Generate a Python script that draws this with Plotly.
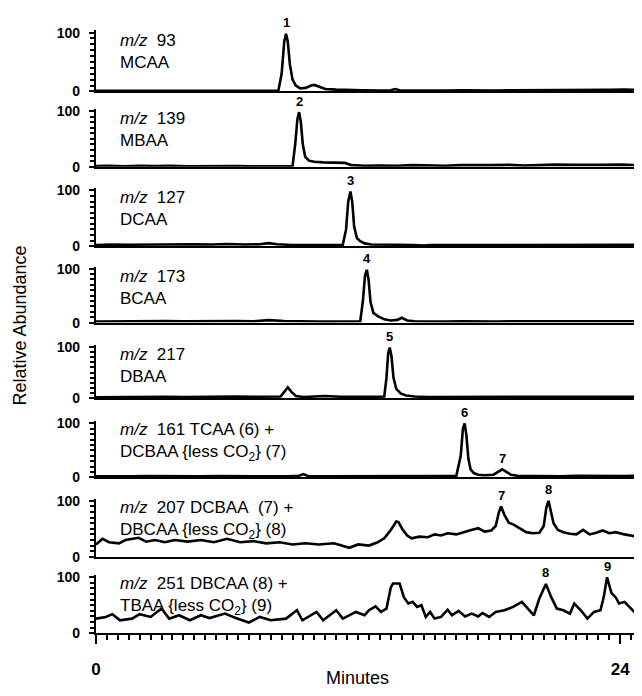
import plotly.graph_objects as go

# ---------------- data ----------------
panel_line1 = ["<i>m/z</i>\u00a0\u00a093", "<i>m/z</i>\u00a0\u00a0139", "<i>m/z</i>\u00a0\u00a0127",
               "<i>m/z</i>\u00a0\u00a0173", "<i>m/z</i>\u00a0\u00a0217",
               "<i>m/z</i>\u00a0\u00a0161 TCAA (6) +", "<i>m/z</i>\u00a0\u00a0207 DCBAA\u00a0\u00a0(7) +",
               "<i>m/z</i>\u00a0\u00a0251 DBCAA (8) +"]
panel_line2 = ["MCAA", "MBAA", "DCAA", "BCAA", "DBAA",
               "DCBAA {less CO<sub>2</sub>} (7)", "DBCAA {less CO<sub>2</sub>} (8)",
               "TBAA {less CO<sub>2</sub>} (9)"]

t1 = [0, 0.5, 1.2, 2.0, 2.8, 3.5, 4.3, 5.0, 5.8, 6.5, 7.2, 7.9, 8.35, 8.5, 8.62, 8.7, 8.78, 8.88, 9.0, 9.15,
      9.35, 9.6, 9.85, 10.0, 10.2, 10.5, 11.0, 11.6, 12.2, 13.0, 13.5, 13.7, 13.9, 14.5, 15.2, 16.0, 16.8,
      17.5, 18.3, 19.0, 19.8, 20.5, 21.3, 22.0, 22.8, 23.5, 24.2, 25.0]
v1 = [1, 1, 1.5, 1, 1, 1.5, 1, 1, 1, 1.5, 1, 1, 1, 30, 85, 98, 85, 45, 20, 10,
      5, 6, 10, 11, 8, 4, 3, 2, 2, 1.5, 2, 4, 2, 1.5, 1, 1.5, 2,
      1.5, 1.5, 2, 2, 1.5, 2, 2.5, 2, 2.5, 3, 2.5]

t2 = [0, 0.6, 1.3, 2.0, 2.7, 3.4, 4.2, 5.0, 5.7, 6.4, 7.1, 7.8, 8.5, 9.0, 9.12, 9.22, 9.3, 9.38, 9.47,
      9.58, 9.75, 10.0, 10.4, 10.9, 11.4, 11.7, 12.3, 13.0, 13.8, 14.5, 15.2, 16.0, 16.7, 17.4, 18.1,
      18.9, 19.6, 20.3, 21.0, 21.8, 22.5, 23.2, 24.0, 25.0]
v2 = [1.5, 2, 1, 2, 1.5, 2, 1, 1.5, 2, 1.5, 1, 1.5, 2, 1.5, 40, 85, 98, 80, 40,
      18, 11, 9, 8, 8, 7, 3, 2, 2.5, 2, 3, 2.5, 2, 3, 2.5, 3,
      3.5, 2.5, 3, 4, 3.5, 3, 3.5, 4, 3]

t3 = [0, 0.7, 1.5, 2.3, 3.0, 3.8, 4.5, 5.3, 6.0, 6.8, 7.5, 7.9, 8.3, 9.0, 9.8, 10.5, 11.3, 11.45, 11.55,
      11.65, 11.73, 11.82, 11.95, 12.1, 12.3, 12.6, 13.0, 13.8, 14.5, 15.0, 15.3, 16.0, 16.8, 17.5, 18.3,
      19.0, 19.8, 20.5, 21.3, 22.0, 22.8, 23.5, 24.2, 25.0]
v3 = [2, 3, 2.5, 3, 2.5, 3, 3.5, 3, 4, 3, 3.5, 5.5, 3.5, 2, 2, 2.5, 2.5, 30, 80,
      98, 80, 35, 14, 9, 5, 3, 2.5, 2.5, 2, 1, 2, 2, 2.5, 2.5, 2,
      2.5, 3, 2.5, 3, 3, 2.5, 3, 3, 2.5]

t4 = [0, 0.8, 1.6, 2.4, 3.2, 4.0, 4.8, 5.6, 6.4, 7.2, 7.9, 8.6, 9.4, 10.2, 11.0, 11.8, 12.1, 12.22,
      12.32, 12.4, 12.48, 12.57, 12.7, 12.9, 13.2, 13.5, 13.8, 14.0, 14.25, 14.6, 15.2, 16.0, 16.8, 17.5,
      18.3, 19.0, 19.8, 20.5, 21.3, 22.0, 22.8, 23.5, 24.2, 25.0]
v4 = [2, 2.5, 2, 2.5, 3, 2.5, 3, 3.5, 3, 2.5, 4.5, 3, 2, 2, 2, 2, 2.5, 40,
      88, 98, 80, 38, 18, 12, 6, 4, 5, 9, 4, 2.5, 2, 2, 2.5, 2,
      2, 2.5, 2, 2.5, 2.5, 2, 2.5, 2.5, 2, 2.5]

t5 = [0, 0.8, 1.6, 2.4, 3.2, 4.0, 4.8, 5.6, 6.4, 7.2, 8.0, 8.45, 8.62, 8.78, 8.95, 9.15, 9.5, 10.0,
      10.5, 11.2, 12.0, 12.8, 13.2, 13.3, 13.38, 13.45, 13.53, 13.62, 13.75, 13.95, 14.2, 14.6, 15.2,
      16.0, 16.8, 17.5, 18.3, 19.0, 19.8, 20.5, 21.3, 22.0, 22.8, 23.5, 24.2, 25.0]
v5 = [1.5, 2, 1.5, 2, 2.5, 2, 2.5, 2, 3, 2.5, 2, 3, 12, 21, 12, 4, 2, 3.5,
      4, 2.5, 2, 2.5, 3, 40, 88, 99, 82, 40, 18, 9, 5, 3, 2,
      2, 2.5, 2, 2.5, 2, 2.5, 2, 3, 2.5, 2, 2.5, 2, 2.5]

t6 = [0, 0.8, 1.6, 2.4, 3.2, 4.0, 4.8, 5.6, 6.4, 7.2, 8.0, 8.8, 9.3, 9.5, 9.7, 10.4, 11.2, 12.0, 12.8,
      13.6, 14.4, 15.2, 15.9, 16.5, 16.7, 16.8, 16.88, 16.96, 17.05, 17.15, 17.3, 17.5, 17.8, 18.2,
      18.45, 18.6, 18.75, 19.0, 19.3, 19.8, 20.5, 21.3, 22.0, 22.8, 23.5, 24.2, 25.0]
v6 = [2, 1.5, 2, 2.5, 2, 1.5, 2, 2.5, 2, 1.5, 2, 2, 3, 6, 2.5, 2, 2, 2.5, 2,
      1.5, 2, 1.5, 2.5, 3, 40, 90, 100, 78, 35, 15, 8, 5, 4, 5,
      11, 15, 11, 5, 3, 2.5, 3, 2, 3, 2.5, 3, 2.5, 3]

t7 = [0.0, 0.3, 0.6, 1.05, 1.35, 1.95, 2.3, 2.7, 3.15, 3.6, 4.2, 4.8, 5.4, 6.0, 6.6, 7.2, 7.8, 8.4,
      9.0, 9.6, 10.2, 10.9, 11.6, 12.0, 12.5, 12.9, 13.2, 13.5, 13.75, 13.85, 14.05, 14.25, 14.45,
      14.8, 15.2, 15.5, 15.8, 16.1, 16.5, 16.8, 17.1, 17.5, 17.8, 18.1, 18.3, 18.45, 18.55, 18.7,
      18.9, 19.1, 19.4, 19.7, 20.0, 20.3, 20.5, 20.62, 20.72, 20.82, 20.95, 21.15, 21.4, 21.7, 22.0,
      22.3, 22.6, 22.9, 23.2, 23.5, 23.8, 24.2, 24.6, 25.0]
v7 = [22, 32, 26, 24, 30, 34, 27, 30, 26, 30, 27, 30, 26, 32, 26, 28, 24, 26,
      22, 24, 22, 24, 16, 22, 20, 26, 33, 48, 63, 62, 48, 38, 33,
      36, 35, 40, 38, 42, 40, 44, 47, 51, 45, 47, 55, 80, 90, 75,
      61, 58, 51, 44, 42, 43, 55, 88, 100, 82, 60, 48, 44, 41, 40,
      48, 40, 43, 47, 42, 44, 40, 37, 36]

t8 = [0.0, 0.45, 0.75, 1.1, 1.65, 2.0, 2.5, 3.0, 3.35, 3.8, 4.3, 4.8, 5.2, 5.9, 6.4, 7.0, 7.5, 8.0,
      8.7, 9.2, 9.45, 10.1, 10.4, 11.0, 11.3, 11.9, 12.3, 12.5, 12.8, 13.05, 13.3, 13.5, 13.6, 13.9,
      14.1, 14.3, 14.5, 14.7, 14.9, 15.1, 15.3, 15.5, 15.8, 16.1, 16.3, 16.6, 16.9, 17.2, 17.5, 17.7,
      18.0, 18.3, 18.7, 19.1, 19.5, 19.75, 20.05, 20.3, 20.6, 20.85, 21.1, 21.4, 21.7, 21.9, 22.2,
      22.5, 22.8, 23.1, 23.25, 23.4, 23.6, 23.8, 23.95, 24.2, 24.5, 24.8, 25.0]
v8 = [26, 29, 34, 23, 26, 34, 29, 44, 26, 32, 23, 32, 27, 35, 27, 19, 29, 23,
      26, 41, 23, 38, 23, 41, 26, 38, 32, 41, 48, 38, 44, 82, 89, 89,
      64, 53, 56, 47, 50, 29, 38, 26, 29, 42, 32, 40, 30, 35, 30, 36,
      29, 38, 41, 47, 56, 45, 32, 62, 88, 64, 44, 41, 35, 53, 41,
      26, 38, 41, 65, 100, 72, 64, 53, 56, 44, 32, 47]

times = [t1, t2, t3, t4, t5, t6, t7, t8]
values = [v1, v2, v3, v4, v5, v6, v7, v8]

# peak labels: (panel index, label, time, peak value)
peak_panel = [0, 1, 2, 3, 4, 5, 5, 6, 6, 7, 7]
peak_text = ["1", "2", "3", "4", "5", "6", "7", "7", "8", "8", "9"]
peak_time = [8.7, 9.3, 11.65, 12.4, 13.45, 16.88, 18.6, 18.55, 20.72, 20.6, 23.4]
peak_value = [98, 98, 98, 98, 99, 100, 15, 90, 100, 88, 100]

ytick_vals = [0, 100]
ytick_text = ["0", "100"]
xtick_vals = [0, 24]
xtick_text = ["0", "24"]

# ---------------- layout geometry (pixel positions in the page) ----------------
OFF = 8                     # default body margin of the html page
W, H = 642 - OFF, 696 - OFF
LEFT = 96                   # x pixel of t = 0
RIGHT = 642                 # x pixel of t = 25
tops = [27, 107, 188, 268, 348, 426, 505, 583]
bases = [87, 164, 245, 323, 400, 481, 562, 640]
YMAX = 104
FONT = "Liberation Sans, Arial, sans-serif"


def fx(px):
    return (px - LEFT) / (RIGHT - LEFT)


def fy(py):
    return 1 - (py - OFF) / H


fig = go.Figure()
layout = dict(
    width=W, height=H,
    margin=dict(l=LEFT - OFF, r=W - (RIGHT - OFF), t=0, b=0),
    paper_bgcolor="white", plot_bgcolor="white",
    font=dict(family=FONT, color="black"),
    showlegend=False,
)
annotations = []

for i in range(8):
    n = "" if i == 0 else str(i + 1)
    s = (bases[i] - tops[i]) / 100.0
    fig.add_trace(go.Scatter(x=times[i], y=values[i], mode="lines",
                             line=dict(color="black", width=2.6),
                             xaxis="x" + n, yaxis="y" + n, hoverinfo="skip"))
    xa = dict(domain=[0, 1], range=[0, 25], anchor="y" + n, showline=True,
              linecolor="black", linewidth=2.4, showgrid=False, zeroline=False,
              fixedrange=True)
    if i == 7:
        xa.update(tickmode="array", tickvals=xtick_vals, ticktext=xtick_text,
                  ticks="outside", ticklen=9, tickwidth=2, tickcolor="black",
                  ticklabelstandoff=10,
                  tickfont=dict(size=17, family=FONT, weight="bold"),
                  minor=dict(dtick=0.5, tick0=0, ticks="outside", ticklen=5,
                             tickwidth=2, tickcolor="black"))
    else:
        xa.update(showticklabels=False, ticks="")
    layout["xaxis" + n] = xa
    layout["yaxis" + n] = dict(
        domain=[fy(bases[i]), fy(bases[i] - YMAX * s)], range=[0, YMAX],
        anchor="x" + n, showline=True,
        linecolor="black", linewidth=2.4, showgrid=False, zeroline=False,
        tickmode="array", tickvals=ytick_vals, ticktext=ytick_text,
        ticks="outside", ticklen=5, tickwidth=2, tickcolor="black",
        ticklabelstandoff=6,
        tickfont=dict(size=14, family=FONT, weight="bold"),
        minor=dict(dtick=10, tick0=0, ticks="outside", ticklen=4, tickwidth=1.5,
                   tickcolor="black"),
        fixedrange=True,
    )
    # panel text
    annotations.append(dict(
        xref="paper", yref="paper", x=fx(118), y=fy(tops[i] + 19),
        xanchor="left", yanchor="middle", align="left", showarrow=False,
        text=panel_line1[i] + "<br>" + panel_line2[i],
        font=dict(size=17, family=FONT, color="black")))

for k in range(len(peak_text)):
    p = peak_panel[k]
    n = "" if p == 0 else str(p + 1)
    annotations.append(dict(
        xref="x" + n, yref="y" + n, x=peak_time[k], y=peak_value[k],
        text=peak_text[k], showarrow=False, xanchor="center", yanchor="middle",
        yshift=11, font=dict(size=13, family=FONT, color="black", weight="bold")))

annotations.append(dict(
    xref="paper", yref="paper", x=fx(20), y=fy(326),
    text="Relative Abundance", textangle=-90, showarrow=False,
    xanchor="center", yanchor="middle", font=dict(size=18, family=FONT, color="black")))
annotations.append(dict(
    xref="paper", yref="paper", x=fx(357), y=fy(686),
    text="Minutes", showarrow=False, xanchor="center", yanchor="middle",
    font=dict(size=18, family=FONT, color="black")))

layout["annotations"] = annotations
fig.update_layout(**layout)
fig.write_html("out.html")
